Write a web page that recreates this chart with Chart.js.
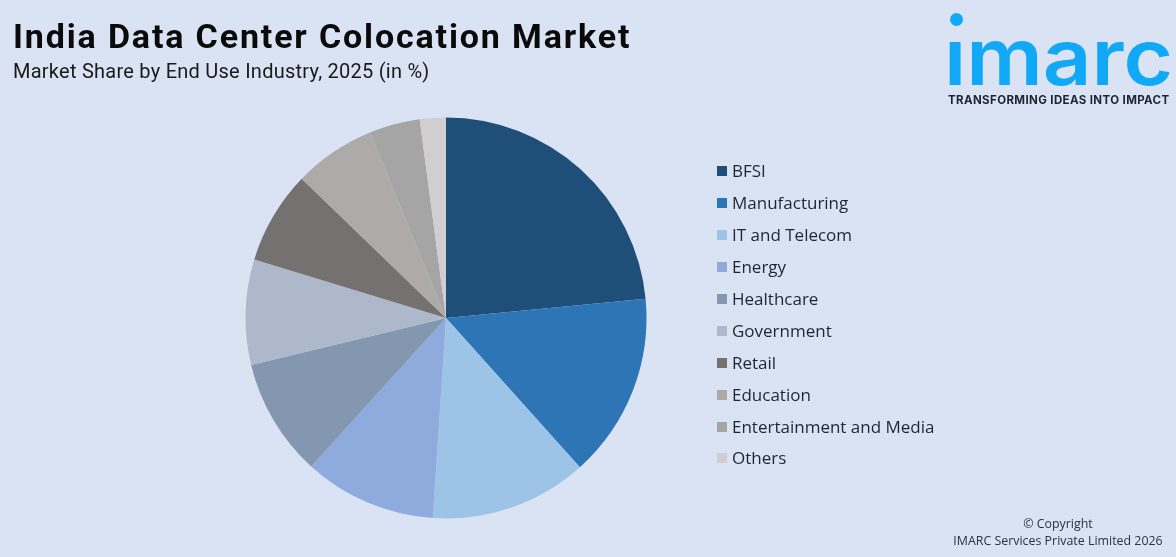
<!DOCTYPE html>
<html>
<head>
<meta charset="utf-8">
<title>India Data Center Colocation Market</title>
<script src="https://cdn.jsdelivr.net/npm/chart.js@4"></script>
<style>
    html, body { margin: 0; padding: 0; }
    body { width: 1176px; height: 557px; background: #dae3f3; position: relative; overflow: hidden; font-family: Roboto, sans-serif; }
    #shareChart { position: absolute; left: 0; top: 0; }
    .title { position: absolute; left: 13px; top: 15px; font-family: Roboto, sans-serif; font-size: 34px; line-height: 42px; font-weight: 700; color: #0a0a0a; letter-spacing: 1.85px; white-space: nowrap; }
    .subtitle { position: absolute; left: 13px; top: 58px; font-size: 20px; line-height: 26px; color: #1a1a1a; letter-spacing: 0.25px; white-space: nowrap; }
    #legend { position: absolute; left: 717px; top: 155px; }
    .item { height: 32px; line-height: 32px; font-family: "Open Sans", sans-serif; font-size: 17px; color: #1d2733; white-space: nowrap; position: relative; padding-left: 15px; }
    .item:last-child { margin-top: -1px; }
    .item i { position: absolute; left: 0; top: 11px; width: 10px; height: 10px; }
    .logo { position: absolute; left: 944px; top: 17px; font-family: Inter, sans-serif; color: #11a9f5; font-size: 78px; font-weight: 600; line-height: 80px; transform: scaleX(1.09); transform-origin: left top; white-space: nowrap; }
    .dot { position: absolute; left: 950px; top: 13px; width: 13px; height: 13px; border-radius: 50%; background: #11a9f5; }
    .tagline { position: absolute; left: 948px; top: 92px; font-family: Inter, sans-serif; font-size: 11.5px; line-height: 16px; font-weight: 700; color: #1e2530; letter-spacing: 0.38px; white-space: nowrap; }
    .copy { position: absolute; left: 938px; top: 515px; width: 240px; text-align: center; font-family: "Open Sans", sans-serif; font-size: 12.4px; line-height: 17px; color: #2a3340; white-space: nowrap; }
</style>
</head>
<body>
<canvas id="shareChart" width="1176" height="557"></canvas>
<div class="title">India Data Center Colocation Market</div>
<div class="subtitle">Market Share by End Use Industry, 2025 (in %)</div>
<div class="dot"></div>
<div class="logo">ımarc</div>
<div class="tagline">TRANSFORMING IDEAS INTO IMPACT</div>
<div id="legend"></div>
<div class="copy">© Copyright<br>IMARC Services Private Limited 2026</div>
<script>
const categories = ['BFSI', 'Manufacturing', 'IT and Telecom', 'Energy', 'Healthcare', 'Government', 'Retail', 'Education', 'Entertainment and Media', 'Others'];
const shares = [23.5, 14.9, 12.7, 10.7, 9.5, 8.5, 7.5, 6.6, 4.1, 2.1];
const colors = ['#1f4e79', '#2e75b6', '#9dc3e6', '#8faadc', '#8497b0', '#adb9ca', '#767171', '#aeaaaa', '#a5a5a5', '#d0cece'];

const ctx = document.getElementById('shareChart').getContext('2d');

new Chart(ctx, {
    type: 'pie',
    data: {
        labels: categories,
        datasets: [{
            data: shares,
            backgroundColor: colors,
            borderWidth: 0
        }]
    },
    options: {
        responsive: false,
        animation: false,
        // puts the pie at the same spot as the reference
        layout: { padding: { left: 245.5, right: 529.5, top: 117.5, bottom: 38.5 } },
        plugins: {
            legend: { display: false },
            tooltip: { enabled: false }
        }
    }
});

// legend sits to the right of the pie
const legend = document.getElementById('legend');
categories.forEach((name, i) => {
    const row = document.createElement('div');
    row.className = 'item';
    const box = document.createElement('i');
    box.style.background = colors[i];
    row.appendChild(box);
    row.appendChild(document.createTextNode(name));
    legend.appendChild(row);
});
</script>
</body>
</html>
